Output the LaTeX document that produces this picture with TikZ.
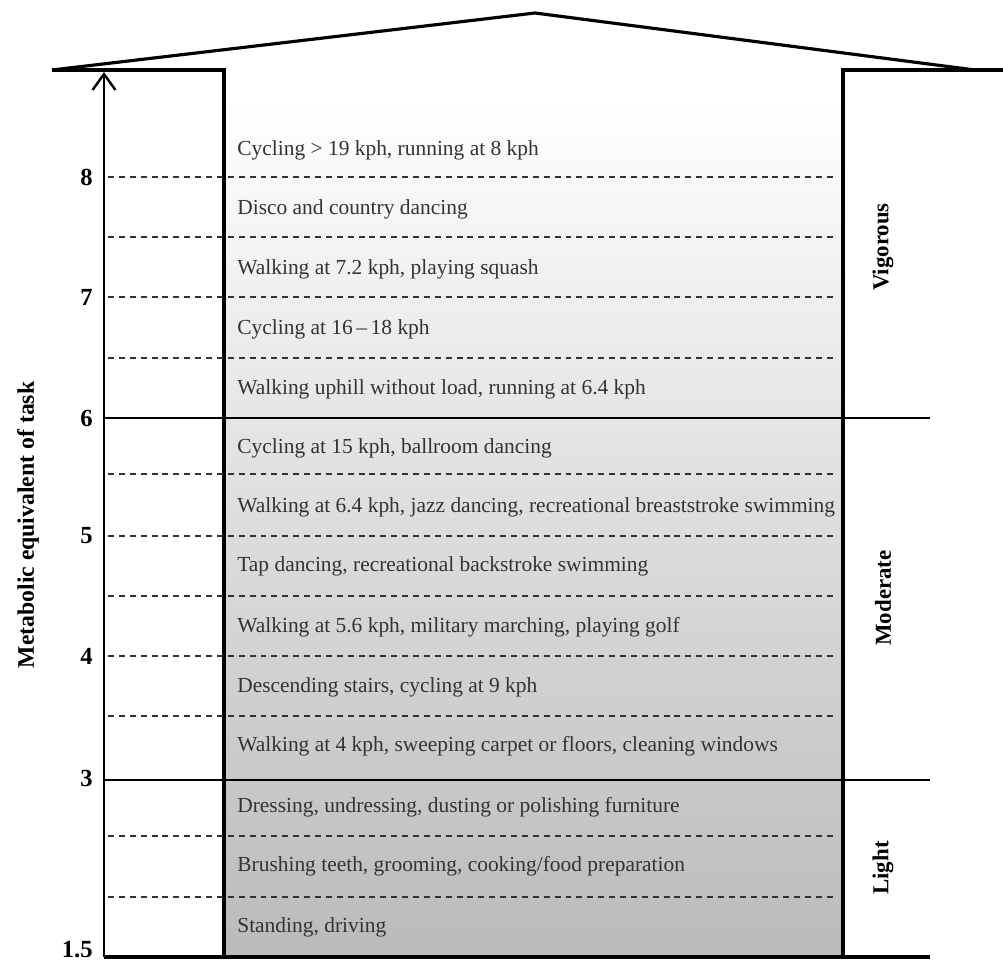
\documentclass[tikz,border=0pt]{standalone}
\usepackage{fontspec}
\setmainfont{Liberation Serif}
\usetikzlibrary{arrows.meta}
\begin{document}
\begin{tikzpicture}[x=0.02cm,y=-0.02cm,
  thickline/.style={line width=1.8pt, line join=miter},
  sepline/.style={line width=1.2pt},
  dashline/.style={line width=0.9pt, dash pattern=on 3.4pt off 2.8pt, black!80},
  act/.style={anchor=west, inner sep=0pt, font=\fontsize{12.2}{14}\selectfont, text=black!80},
  tick/.style={anchor=east, inner sep=0pt, font=\fontsize{14}{16}\selectfont\bfseries},
  cat/.style={rotate=90, inner sep=0pt, font=\fontsize{13}{15}\selectfont\bfseries}]
\useasboundingbox (0,0) rectangle (1003,961);
\shade[top color=white, bottom color=black!27] (224,100) rectangle (843,957);
% coordinates
\coordinate (roofL) at (52,70);
\coordinate (apex) at (535,13);
\coordinate (roofR) at (1003,70);
\coordinate (eaveR) at (975,70);
\coordinate (pilLt) at (224,70);
\coordinate (pilLb) at (224,957);
\coordinate (pilRt) at (843,70);
\coordinate (pilRb) at (843,957);
\coordinate (axB) at (104,957);
\coordinate (axT) at (104,72);
% roof
\draw[thickline] (roofL) -- (apex) -- (eaveR);
\draw[thickline] (roofL) -- (pilLt) -- (pilLb);
\draw[thickline] (roofR) -- (pilRt) -- (pilRb);
% axis
\draw[line width=1.6pt, -{Straight Barb[length=9pt,width=13pt,line width=1.4pt]}] (axB) -- (axT);
% solid separators
\coordinate (s6L) at (104,418); \coordinate (s6R) at (930,418);
\coordinate (s3L) at (104,780); \coordinate (s3R) at (930,780);
\coordinate (bR) at (930,957);
\draw[sepline] (s6L) -- (s6R);
\draw[sepline] (s3L) -- (s3R);
\draw[thickline] (axB) -- (bR);
% dashed lines
\foreach \y/\n in {177/a,237/b,297/c,358/d,474/e,536/f,596/g,656/h,716/i,836/j,897/k}{
  \coordinate (d\n L) at (108,\y); \coordinate (d\n R) at (836,\y);
  \draw[dashline] (d\n L) -- (d\n R);
}
% tick labels
\node[tick] (t8) at (93,177) {8};
\node[tick] (t7) at (93,297) {7};
\node[tick] (t6) at (93,418) {6};
\node[tick] (t5) at (93,536) {5};
\node[tick] (t4) at (93,656) {4};
\node[tick] (t3) at (93,778) {3};
\node[tick] (t15) at (93,950) {1.5};
\node[cat, font=\fontsize{13.5}{15}\selectfont\bfseries] (ylab) at (28,525) {Metabolic equivalent of task};
% categories
\node[cat] (vig) at (883,247) {Vigorous};
\node[cat] (mod) at (883,598) {Moderate};
\node[cat] (lig) at (883,868) {Light};
% activities
\node[act] (a1) at (237,150) {Cycling > 19 kph, running at 8 kph};
\node[act] (a2) at (237,209) {Disco and country dancing};
\node[act] (a3) at (237,269) {Walking at 7.2 kph, playing squash};
\node[act] (a4) at (237,329) {Cycling at 16\,\textendash\,18 kph};
\node[act] (a5) at (237,389) {Walking uphill without load, running at 6.4 kph};
\node[act] (a6) at (237,448) {Cycling at 15 kph, ballroom dancing};
\node[act] (a7) at (237,507) {Walking at 6.4 kph, jazz dancing, recreational breaststroke swimming};
\node[act] (a8) at (237,566) {Tap dancing, recreational backstroke swimming};
\node[act] (a9) at (237,627) {Walking at 5.6 kph, military marching, playing golf};
\node[act] (a10) at (237,687) {Descending stairs, cycling at 9 kph};
\node[act] (a11) at (237,746) {Walking at 4 kph, sweeping carpet or floors, cleaning windows};
\node[act] (a12) at (237,807) {Dressing, undressing, dusting or polishing furniture};
\node[act] (a13) at (237,866) {Brushing teeth, grooming, cooking/food preparation};
\node[act] (a14) at (237,927) {Standing, driving};
\end{tikzpicture}
\end{document}
